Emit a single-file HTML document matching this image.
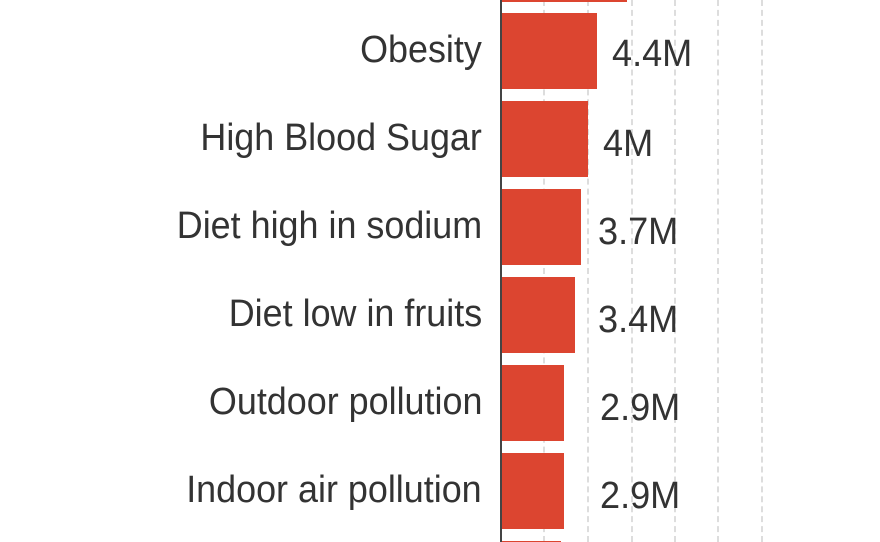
<!DOCTYPE html>
<html style="overflow:hidden;height:542px"><head><style>
html,body{overflow:hidden}
body{margin:0;width:880px;height:542px;background:#fff;position:relative;overflow:hidden;font-family:"Liberation Sans",sans-serif;color:#333}
.g{position:absolute;top:0;height:542px;width:0;border-left:2px dashed #ddd}
.b{position:absolute;left:502px;height:76px;background:#dc4530}
.l{position:absolute;right:398px;font-size:38px;line-height:76px;white-space:nowrap;transform:scaleX(0.945);transform-origin:right center}
.v{position:absolute;font-size:38px;line-height:76px;white-space:nowrap;transform:scaleX(0.95);transform-origin:left center}
</style></head><body>
<div class="g" style="left:543px"></div>
<div class="g" style="left:587px"></div>
<div class="g" style="left:631px"></div>
<div class="g" style="left:674px"></div>
<div class="g" style="left:717px"></div>
<div class="g" style="left:761px"></div>
<div style="position:absolute;left:500px;top:0;width:2px;height:542px;background:#444"></div>
<div class="b" style="top:-74px;width:125px"></div>
<div class="b" style="top:13px;width:95px"></div>
<div class="b" style="top:101px;width:86px"></div>
<div class="b" style="top:189px;width:79px"></div>
<div class="b" style="top:277px;width:73px"></div>
<div class="b" style="top:365px;width:62px"></div>
<div class="b" style="top:453px;width:62px"></div>
<div class="b" style="top:541px;width:59px;height:1px"></div>
<div class="l" style="top:12px">Obesity</div>
<div class="l" style="top:100px">High Blood Sugar</div>
<div class="l" style="top:188px">Diet high in sodium</div>
<div class="l" style="top:276px">Diet low in fruits</div>
<div class="l" style="top:364px">Outdoor pollution</div>
<div class="l" style="top:452px">Indoor air pollution</div>
<div class="v" style="top:16px;left:612px">4.4M</div>
<div class="v" style="top:106px;left:603px">4M</div>
<div class="v" style="top:194px;left:598px">3.7M</div>
<div class="v" style="top:282px;left:598px">3.4M</div>
<div class="v" style="top:370px;left:600px">2.9M</div>
<div class="v" style="top:458px;left:600px">2.9M</div>
</body></html>
